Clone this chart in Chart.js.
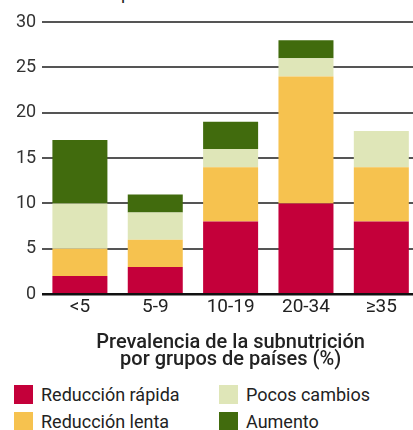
<!DOCTYPE html>
<html>
<head>
<meta charset="utf-8">
<script src="https://cdn.jsdelivr.net/npm/chart.js@4"></script>
<style>
  html, body { margin: 0; padding: 0; background: #fff; overflow: hidden; width: 413px; height: 430px; }
  body { position: relative; font-family: Roboto, sans-serif; color: #222; }
  #wrap { position: absolute; left: 0; top: 0; width: 420px; height: 372px; }
  #topTitle { position: absolute; left: 28px; top: -18px; font-size: 18px; line-height: 21px; white-space: nowrap; }
  .legend { position: absolute; display: flex; align-items: center; font-size: 18px; white-space: nowrap; }
  .legend span.box { display: inline-block; width: 19px; height: 19px; margin-right: 8px; }
</style>
</head>
<body>
<div id="topTitle">Número de países</div>
<div id="wrap"><canvas id="chart" width="420" height="372"></canvas></div>
<div id="legend"></div>
<script>
// grupos de prevalencia
const categories = ['<5', '5-9', '10-19', '20-34', '≥35'];

// número de países por tendencia
const rapida = [2, 3, 8, 10, 8];
const lenta = [3, 3, 6, 14, 6];
const pocos = [5, 3, 2, 2, 4];
const aumento = [7, 2, 3, 2, 0];

const seriesNames = ['Reducción rápida', 'Reducción lenta', 'Pocos cambios', 'Aumento'];
const seriesColors = ['#c4003a', '#f6c24f', '#dfe6b8', '#416b0d'];
const yTicks = [0, 5, 10, 15, 20, 25, 30];

const datasets = [rapida, lenta, pocos, aumento].map((data, i) => ({
  label: seriesNames[i],
  data: data,
  backgroundColor: seriesColors[i],
  borderWidth: 0,
  barPercentage: 0.73,
  categoryPercentage: 1
}));

new Chart(document.getElementById('chart'), {
  type: 'bar',
  data: { labels: categories, datasets: datasets },
  options: {
    responsive: false,
    animation: false,
    layout: { padding: { top: 22, right: 1, left: 10, bottom: 4 } },
    plugins: { legend: { display: false }, tooltip: { enabled: false } },
    scales: {
      x: {
        stacked: true,
        grid: { display: false, drawTicks: false, tickLength: 0 },
        border: { display: false },
        ticks: { color: '#222', font: { family: 'Roboto', size: 19 }, padding: 2 },
        title: {
          display: true,
          text: ['Prevalencia de la subnutrición', 'por grupos de países (%)'],
          color: '#222',
          font: { family: 'Roboto', size: 20, weight: '500', lineHeight: 0.85 },
          padding: { top: 13, bottom: 0 }
        }
      },
      y: {
        stacked: true,
        min: 0,
        max: 30,
        afterBuildTicks: (axis) => { axis.ticks = yTicks.map(v => ({ value: v })); },
        border: { display: false },
        grid: {
          drawTicks: false,
          color: (ctx) => ctx.tick && ctx.tick.value === 0 ? '#111' : '#555',
          lineWidth: (ctx) => ctx.tick && ctx.tick.value === 0 ? 2.5 : 2
        },
        ticks: { color: '#333', font: { family: 'Roboto', size: 18 }, padding: 6 }
      }
    }
  }
});

// leyenda en dos columnas
const legendPos = [[14, 384], [14, 411], [219, 384], [219, 411]];
const legend = document.getElementById('legend');
seriesNames.forEach((name, i) => {
  const item = document.createElement('div');
  item.className = 'legend';
  item.style.left = legendPos[i][0] + 'px';
  item.style.top = legendPos[i][1] + 'px';
  item.innerHTML = '<span class="box" style="background:' + seriesColors[i] + '"></span>' + name;
  legend.appendChild(item);
});
</script>
</body>
</html>
